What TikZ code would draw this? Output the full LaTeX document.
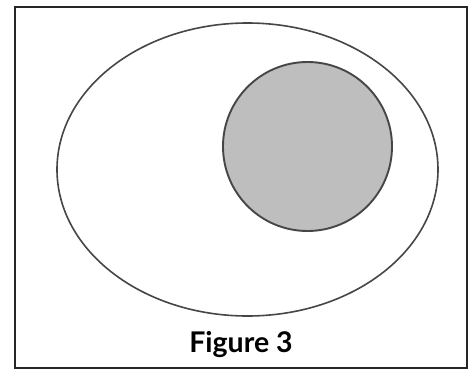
\documentclass[tikz,border=0pt]{standalone}
\usepackage{xcolor}
\usepackage{fontspec}
\setmainfont{Lato}
\usepackage{tikz}
\definecolor{discgray}{RGB}{190,190,190}
\definecolor{linegray}{RGB}{70,70,70}

\begin{document}
\begin{tikzpicture}[x=1pt, y=-1pt]
\useasboundingbox (0,0) rectangle (475,370);
\fill[white] (0,0) rectangle (475,370);
\draw[line width=1.4pt, black!85] (15,7) rectangle (467,368);
\draw[line width=1.6pt, linegray] (247.5,169.5) ellipse [x radius=190.5, y radius=146.5];
\draw[line width=1.9pt, linegray, fill=discgray] (307.5,146.5) circle [radius=84.5];
\node[font=\fontsize{28.5}{32}\selectfont\bfseries, anchor=base] (caption) at (241,352) {Figure 3};
\end{tikzpicture}
\end{document}
